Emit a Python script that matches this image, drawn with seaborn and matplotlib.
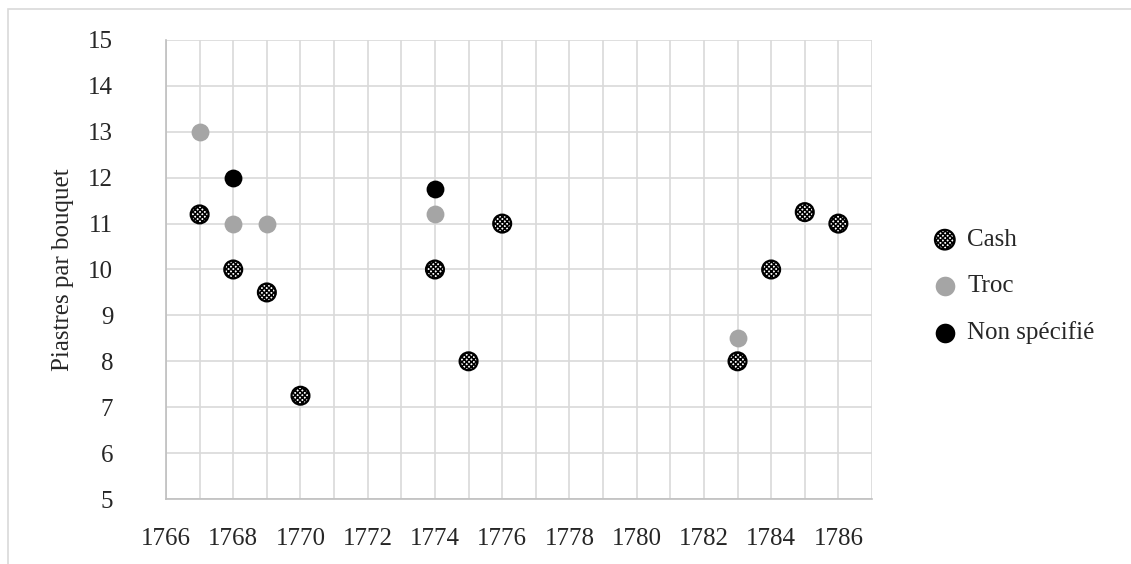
import numpy as np
import pandas as pd
import matplotlib
matplotlib.use("Agg")
import matplotlib.pyplot as plt
import seaborn as sns
from matplotlib.patches import Rectangle

# Data
cash_years = [1767, 1768, 1769, 1770, 1774, 1775, 1776, 1783, 1784, 1785, 1786]
cash_price = [11.2, 10, 9.5, 7.25, 10, 8, 11, 8, 10, 11.25, 11]

troc_years = [1767, 1768, 1769, 1774, 1783]
troc_price = [13, 11, 11, 11.2, 8.5]

nonspec_years = [1768, 1774]
nonspec_price = [12, 11.75]

series_names = ["Cash", "Troc", "Non spécifié"]
x_ticks = list(range(1766, 1787, 2))
y_ticks = list(range(5, 16))

df = pd.concat([
    pd.DataFrame({"annee": cash_years, "prix": cash_price, "type": "Cash"}),
    pd.DataFrame({"annee": troc_years, "prix": troc_price, "type": "Troc"}),
    pd.DataFrame({"annee": nonspec_years, "prix": nonspec_price, "type": "Non spécifié"}),
])

sns.set_style("white")
plt.rcParams["font.family"] = ["Liberation Serif", "DejaVu Serif"]
plt.rcParams["hatch.linewidth"] = 1.1

W, H = 1131, 564
fig = plt.figure(figsize=(W / 100, H / 100), dpi=100)
ax = fig.add_axes([166 / W, 1 - 499 / H, (872 - 166) / W, (499 - 40) / H])

# outer chart frame
fig.patches.append(Rectangle((8 / W, -0.1), 1.2, 1 - 9 / H + 0.1,
                             transform=fig.transFigure, fill=False,
                             edgecolor="#d9d9d9", linewidth=1.2))

styles = {
    "Cash": dict(color="white", edgecolor="black", hatch="xxxxxxx", linewidth=1.6),
    "Troc": dict(color="#a5a5a5", edgecolor="#a5a5a5", linewidth=0),
    "Non spécifié": dict(color="black", edgecolor="black", linewidth=0),
}

for name in series_names:
    sub = df[df["type"] == name]
    sns.scatterplot(data=sub, x="annee", y="prix", ax=ax, s=165,
                    label=name, zorder=3, **styles[name])

ax.set_xlim(1766, 1787)
ax.set_ylim(5, 15)
ax.set_xticks(range(1766, 1788))
ax.set_xticklabels([str(y) if y in x_ticks else "" for y in range(1766, 1788)])
ax.set_yticks(y_ticks)
ax.grid(True, color="#d9d9d9", linewidth=1.2)
ax.tick_params(axis="y", length=0, labelsize=18, pad=38)
ax.tick_params(axis="x", length=0, labelsize=18, pad=21)
ax.set_xlabel("")
ax.set_ylabel("Piastres par bouquet", fontsize=18)
ax.yaxis.set_label_coords(-92 / (872 - 166), 0.5)

for side in ["top", "right"]:
    ax.spines[side].set_visible(False)
for side in ["left", "bottom"]:
    ax.spines[side].set_color("#bfbfbf")
    ax.spines[side].set_linewidth(1.2)

ax.legend(loc="center left", bbox_to_anchor=(1.05, 0.463), frameon=False,
          fontsize=18, handletextpad=-0.1, labelspacing=0.95, markerscale=1.1,
          borderpad=0)

fig.savefig("out.png", dpi=100)
